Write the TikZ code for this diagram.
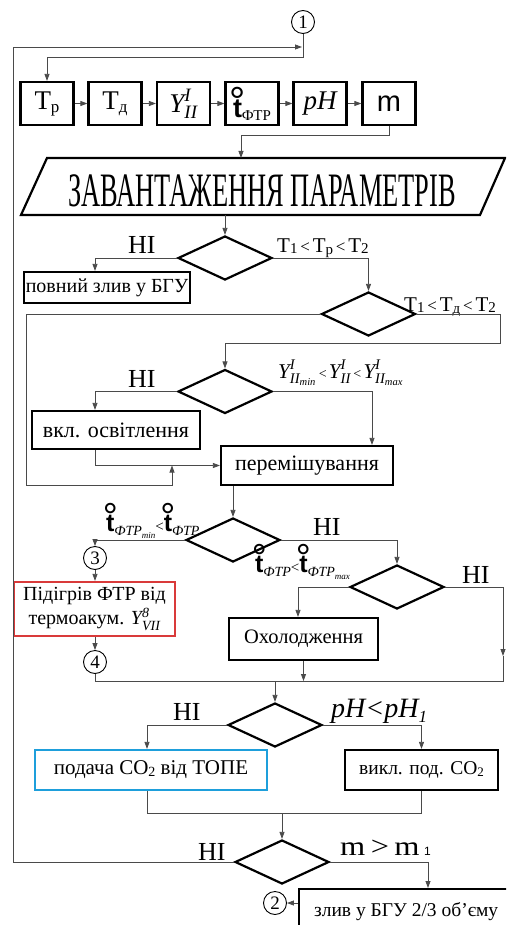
\documentclass[tikz,border=0pt]{standalone}
\usepackage{fontspec}
\usepackage{amsmath}
\setmainfont{Liberation Serif}
\newfontfamily\sansf{Liberation Sans}
\newfontfamily\serf{Liberation Serif}
\usetikzlibrary{shapes.geometric,arrows.meta}
\definecolor{redb}{HTML}{D93A3A}
\definecolor{blueb}{HTML}{1E9FDB}
\definecolor{connc}{HTML}{4A4A4A}
\newcommand{\fsz}[1]{\fontsize{#1}{#1}\selectfont}
\newcommand{\tdeg}{{\sansf\bfseries\makebox[0.33em][c]{t}\llap{\makebox[0.33em][c]{\raisebox{0.08em}{\scalebox{1.5}{\mdseries°}}}}}}
\newcommand{\Ya}{\textit{Y}^{\textit{I}}_{\textit{II}}}
\newcommand{\Yb}[1]{\textit{Y}^{\textit{I}}_{\textit{II}_{\textit{#1}}}}
\newcommand{\Tlt}[1]{Т\raisebox{-1pt}{\fsz{15}1}{\fsz{17}\,<\,}Т\raisebox{-2pt}{\fsz{15}#1}{\fsz{17}\,<\,}Т\raisebox{-1pt}{\fsz{15}2}}
\begin{document}
\begin{tikzpicture}[x=1pt,y=-1pt,
  every node/.style={font=\serf},
  box/.style={draw=black, line width=2.2pt, inner sep=0pt, font=\serf\fsz{20}},
  dec/.style={diamond, draw=black, line width=2.2pt, minimum width=94pt, minimum height=44pt, inner sep=0pt},
  cir/.style={circle, draw=black, line width=0.9pt, minimum size=23pt, inner sep=0pt, font=\serf\fsz{19}},
  conn/.style={draw=connc, line width=0.8pt},
  arr/.style={conn, -{Triangle[length=7pt,width=5pt]}},
  lbl/.style={inner sep=0pt, anchor=base west},
]
\clip (0,0) rectangle (506,925);
\fill[white] (0,0) rectangle (506,925);

% top
\node[cir] (c1) at (303,22) {1};
\node[box, minimum width=53pt, minimum height=43pt, font=\serf\fsz{27}] (tp) at (47,103.5) {Т\raisebox{-3pt}{\fsz{17}р}};
\node[box, minimum width=53pt, minimum height=43pt, font=\serf\fsz{27}] (td) at (115,103.5) {Т\raisebox{-3pt}{\fsz{17}д}};
\node[box, minimum width=53pt, minimum height=43pt, font=\serf\fsz{27}] (yb) at (183.5,103.5) {$\Ya$};
\node[box, minimum width=53pt, minimum height=43pt, font=\serf\fsz{27}] (tb) at (252,103.5) {\tdeg\raisebox{-3pt}{\fsz{15}ФТР}};
\node[box, minimum width=53pt, minimum height=43pt, font=\serf\fsz{27}] (pb) at (320,103.5) {\itshape pH};
\node[box, minimum width=53pt, minimum height=43pt, font=\sansf\fsz{29}] (mb) at (389,103.5) {m};
\foreach \a/\b in {tp/td,td/yb,yb/tb,tb/pb,pb/mb} \draw[arr] (\a.east) -- (\b.west);

% load parameters
\draw[line width=2.2pt, line join=miter] (47,158) -- (505,158) -- (480,215) -- (21,215) -- cycle;
\node[inner sep=0pt] (load) at (262,191) {\scalebox{0.55}[1]{\serf\fsz{48}ЗАВАНТАЖЕННЯ ПАРАМЕТРІВ}};
\coordinate (ldtop) at (241,158);
\coordinate (ldbot) at (225,215);

% decisions
\node[dec] (d1) at (225,258) {};
\node[dec] (d2) at (368.5,314) {};
\node[dec] (d3) at (225,391.5) {};
\node[dec] (d4) at (233,540) {};
\node[dec] (d5) at (397,587) {};
\node[dec] (d6) at (275,725) {};
\node[dec] (d7) at (282,862) {};

% boxes
\node[box, minimum width=166pt, minimum height=31pt] (b1) at (107,287.5) {повний злив у БГУ};
\node[box, minimum width=168pt, minimum height=38pt, font=\serf\fsz{22}] (b2) at (116,430) {вкл. освітлення};
\node[box, minimum width=172pt, minimum height=39pt, font=\serf\fsz{22}] (b3) at (307,465.5) {перемішування};
\node[cir] (c3) at (95,558) {3};
\node[box, draw=redb, minimum width=161pt, minimum height=54pt, align=center, font=\serf\fontsize{20}{24}\selectfont] (red) at (94.5,609) {Підігрів ФТР від\\термоакум. $\textit{Y}^{\textit{8}}_{\textit{VII}}$};
\node[cir] (c4) at (95,662) {4};
\node[box, minimum width=149pt, minimum height=42pt, font=\serf\fsz{20.5}] (b5) at (303.5,639) {Охолодження};
\node[box, draw=blueb, minimum width=232pt, minimum height=40pt, font=\serf\fsz{21}] (b6) at (151,770) {подача CO\raisebox{-2pt}{\fsz{14}2} від ТОПЕ};
\node[box, minimum width=153pt, minimum height=40pt, font=\serf\fsz{19.5}] (b7) at (421.5,770) {викл. под. CO\raisebox{-2pt}{\fsz{13}2}};
\node[box, anchor=north west, minimum height=46pt, inner xsep=15pt, font=\serf\fsz{19.5}] (b8) at (298,888) {злив у БГУ 2/3 об’єму};
\node[cir] (c2) at (275,903) {2};

% labels
\node[lbl, font=\serf\fsz{26}] (n1) at (128,253) {НІ};
\node[lbl, font=\serf\fsz{21}] (l1) at (277,252) {\Tlt{р}};
\node[lbl, font=\serf\fsz{21}] (l2) at (404,311) {\Tlt{д}};
\node[lbl, font=\serf\fsz{26}] (n3) at (128,387) {НІ};
\node[lbl, font=\serf\fsz{21}] (l3) at (278,378) {$\Yb{min}\text{\fsz{14}\,<\,}\Ya\text{\fsz{14}\,<\,}\Yb{max}$};
\node[lbl, font=\serf\fsz{25}] (l4) at (106,531) {\tdeg\raisebox{-4pt}{\fsz{14}\itshape ФТР\raisebox{-3pt}{\fsz{9}min}}{\fsz{15}<}\tdeg\raisebox{-4pt}{\fsz{14}\itshape ФТР}};
\node[lbl, font=\serf\fsz{25}] (l5) at (255,572) {\tdeg\raisebox{-4pt}{\fsz{14}\itshape ФТР}{\fsz{15}<}\tdeg\raisebox{-4pt}{\fsz{14}\itshape ФТР\raisebox{-3pt}{\fsz{9}max}}};
\node[lbl, font=\serf\fsz{26}] (n4) at (313,535) {НІ};
\node[lbl, font=\serf\fsz{26}] (n5) at (462,583) {НІ};
\node[lbl, font=\serf\fsz{26}] (n6) at (173,720) {НІ};
\node[lbl, font=\serf\fsz{28}] (l6) at (331,717) {\itshape pH<pH\raisebox{-5pt}{\fsz{17}1}};
\node[lbl, font=\serf\fsz{26}] (n7) at (198,860) {НІ};
\node[lbl, font=\serf\fsz{27}] (l7) at (340,855) {\scalebox{1.2}[1]{m\,>\,m}\,{\fsz{12}\sansf 1}};

% connectors
\draw[arr] (c1.south) -- (c1.south |- 0,57) -| (tp.north);
\draw[arr] (d7.west) -| (13,47) -- ([xshift=-1pt]c1.south |- 0,47);
\draw[arr] (mb.south) |- (241,135) -- (ldtop);
\draw[arr] (ldbot) -- (d1.north);
\draw[arr] (d1.west) -| ([xshift=-12pt]b1.north);
\draw[arr] (d1.east) -| (d2.north);
\coordinate (j1) at (172,0 |- b3.west);
\draw[arr] (d2.west) -| (26,485) -| (j1);
\draw[arr] (d2.east) -| (500,343) -| (d3.north);
\draw[arr] (d3.west) -| ([xshift=-21pt]b2.north);
\draw[arr] (d3.east) -| ([xshift=65pt]b3.north);
\draw[arr] ([xshift=-21pt]b2.south) |- (b3.west);
\draw[arr] (d4.north |- b3.south) -- (d4.north);
\draw[arr] (d4.west) -| (c3.north);
\draw[arr] (c3.south) -- (c3.south |- red.north);
\draw[arr] (red.south -| c4) -- (c4.north);
\draw[arr] (d4.east) -| (d5.north);
\draw[arr] (d5.west) -| ([xshift=-5.5pt]b5.north);
\draw[arr] (d5.east) -| (503,656);
\coordinate (m1) at (275,681);
\draw[conn] (c4.south) |- (503,681) -- (503,656);
\draw[arr] (b5.south) -- (b5.south |- m1);
\draw[arr] (m1) -- (d6.north);
\draw[arr] (d6.west) -| ([xshift=-4pt]b6.north);
\draw[arr] (d6.east) -| (b7.north);
\coordinate (m2) at (282,813);
\draw[conn] ([xshift=-4pt]b6.south) |- (b7.south |- m2) -- (b7.south);
\draw[arr] (m2) -- (d7.north);
\draw[arr] (d7.east) -| ([xshift=130pt]b8.north west);
\draw[arr] (b8.west |- c2) -- (c2.east);
\end{tikzpicture}
\end{document}
